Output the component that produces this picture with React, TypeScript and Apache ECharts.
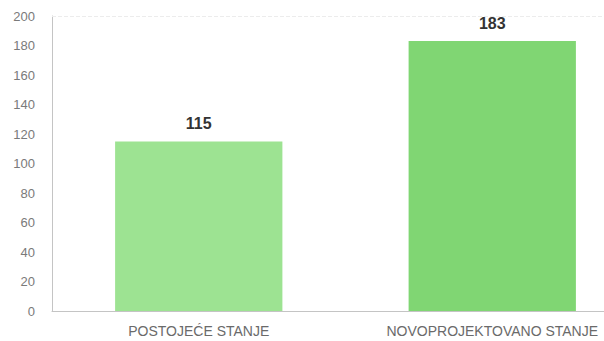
import React, { useEffect, useRef } from "react";
import * as echarts from "echarts";

const categories = ["POSTOJEĆE STANJE", "NOVOPROJEKTOVANO STANJE"];
const values = [115, 183];
const barColors = ["#9de392", "#80d673"];
const yTicks = { min: 0, max: 200, interval: 20 };

export default function App() {
  const ref = useRef<HTMLDivElement>(null);
  useEffect(() => {
    if (!ref.current) return;
    const chart = echarts.init(ref.current, null, { renderer: "svg" });
    chart.setOption({
      animation: false,
      backgroundColor: "#ffffff",
      grid: {
        left: 52,
        width: 587,
        top: 16,
        bottom: 30,
        containLabel: false,
        outerBoundsMode: "none",
      },
      xAxis: {
        type: "category",
        data: categories,
        axisLine: { lineStyle: { color: "#c4c4c4", width: 1 } },
        axisTick: { show: false },
        axisLabel: {
          color: "#6a6a6a",
          fontFamily: "Liberation Sans, Arial, sans-serif",
          fontSize: 14,
          margin: 13,
          interval: 0,
          hideOverlap: false,
          showMinLabel: true,
          showMaxLabel: true,
        },
      },
      yAxis: {
        type: "value",
        min: yTicks.min,
        max: yTicks.max,
        interval: yTicks.interval,
        axisLine: { show: true, lineStyle: { color: "#c4c4c4", width: 1 } },
        axisTick: { show: false },
        splitLine: { show: false },
        axisLabel: {
          color: "#7a7a7a",
          fontFamily: "Liberation Sans, Arial, sans-serif",
          fontSize: 13,
          margin: 17,
        },
      },
      series: [
        {
          type: "bar",
          barCategoryGap: "43%",
          data: values.map((v, i) => ({ value: v, itemStyle: { color: barColors[i] } })),
          label: {
            show: true,
            position: "top",
            distance: 10,
            color: "#333333",
            fontWeight: "bold",
            fontSize: 16,
            fontFamily: "Liberation Sans, Arial, sans-serif",
          },
          markLine: {
            silent: true,
            symbol: "none",
            label: { show: false },
            lineStyle: { color: "#ececec", type: "dashed", width: 1 },
            data: [{ yAxis: yTicks.max }],
          },
        },
      ],
    });
    return () => chart.dispose();
  }, []);
  return <div ref={ref} style={{ width: 604, height: 341, position: "fixed", left: 0, top: 0 }} />;
}
